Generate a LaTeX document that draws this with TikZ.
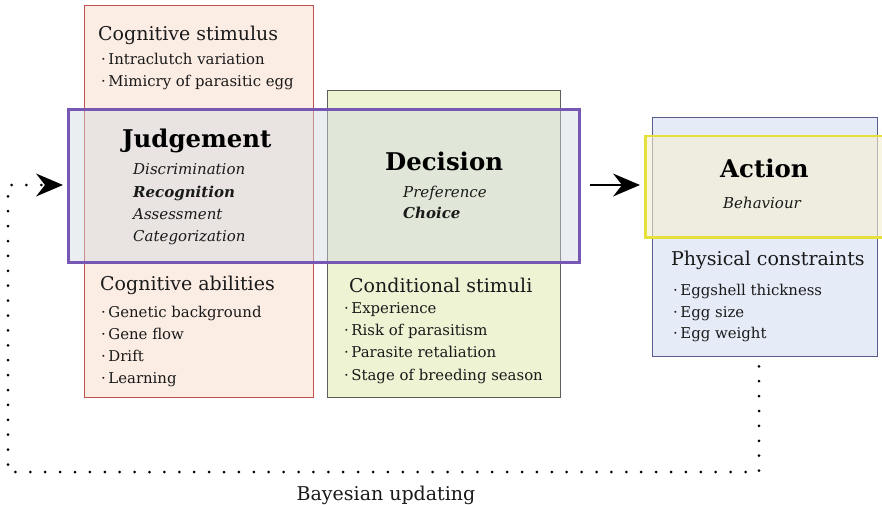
\documentclass[tikz,border=0pt]{standalone}
\usepackage{fontspec}
\setmainfont{DejaVu Serif}
\usepackage{tikz}
\usetikzlibrary{arrows.meta, positioning, calc}

\definecolor{cogline}{HTML}{C0504D}
\definecolor{cogfill}{HTML}{FCEDE4}
\definecolor{condline}{HTML}{5E5E58}
\definecolor{condfill}{HTML}{EDF3D3}
\definecolor{judgeline}{HTML}{7658B4}
\definecolor{judgefill}{HTML}{D3D9E0}
\definecolor{physline}{HTML}{5A5A8C}
\definecolor{physfill}{HTML}{E5EBF7}
\definecolor{actline}{HTML}{E6E03A}
\definecolor{actfill}{HTML}{F5EFD0}
\definecolor{txt}{HTML}{1A1A1A}

\tikzset{
  panel/.style={draw, anchor=north west, inner sep=0pt, line width=1.3pt},
  title/.style={anchor=base west, inner sep=0pt, text=txt, font=\fontsize{19}{22}\selectfont},
  item/.style={anchor=base west, inner sep=0pt, text=txt, font=\fontsize{14.9}{17}\selectfont},
  stage/.style={anchor=base west, inner sep=0pt, text=black, font=\fontsize{24.4}{28}\selectfont\bfseries},
  facet/.style={anchor=base west, inner sep=0pt, text=txt, font=\fontsize{15}{17}\selectfont\itshape},
  keyfacet/.style={facet, font=\fontsize{15}{17}\selectfont\itshape\bfseries},
  pointer/.style={-{Stealth[length=27pt, width=23pt, inset=9pt, line width=0pt]}},
}

\begin{document}
\begin{tikzpicture}[x=1pt, y=-1pt, >=Stealth]
  \useasboundingbox (0,0) rectangle (882,505);
  % Kaders met stimuli en beperkingen
  \node[panel, draw=cogline, fill=cogfill, minimum width=229pt, minimum height=392pt] (cogbox) at (84,5) {};
  \node[panel, draw=condline, fill=condfill, minimum width=233pt, minimum height=307pt] (condbox) at (327,90) {};
  % Oordeel en beslissing
  \node[panel, draw=judgeline, fill=judgefill, fill opacity=0.45, line width=3pt, minimum width=511pt, minimum height=153pt] (judge) at (67,108) {};
  % Handeling
  \node[panel, draw=physline, fill=physfill, minimum width=225pt, minimum height=239pt] (physbox) at (652,117) {};
  \node[panel, draw=actline, fill=actfill, fill opacity=0.6, line width=2.5pt, minimum width=250pt, minimum height=101pt] (act) at (644,135) {};

  % Cognitieve stimulus
  \node[title] (cstim) at (98,41) {Cognitive stimulus};
  \node[item] (cstim1) at (101,65) {·\,Intraclutch variation};
  \node[item] (cstim2) at (101,87) {·\,Mimicry of parasitic egg};
  % Oordeel
  \node[stage] (jtitle) at (122,148) {Judgement};
  \node[facet] (j1) at (133,174) {Discrimination};
  \node[keyfacet] (j2) at (133,197) {Recognition};
  \node[facet] (j3) at (133,219) {Assessment};
  \node[facet] (j4) at (133,241) {Categorization};
  % Cognitieve vermogens
  \node[title] (cabil) at (100,290) {Cognitive abilities};
  \node[item] (cabil1) at (101,317) {·\,Genetic background};
  \node[item] (cabil2) at (101,339) {·\,Gene flow};
  \node[item] (cabil3) at (101,361) {·\,Drift};
  \node[item] (cabil4) at (101,383) {·\,Learning};
  % Beslissing
  \node[stage] (dtitle) at (385,170) {Decision};
  \node[facet] (d1) at (403,197) {Preference};
  \node[keyfacet] (d2) at (403,218) {Choice};
  % Conditionele stimuli
  \node[title] (cond) at (349,292) {Conditional stimuli};
  \node[item] (cond1) at (344,313) {·\,Experience};
  \node[item] (cond2) at (344,335) {·\,Risk of parasitism};
  \node[item] (cond3) at (344,357) {·\,Parasite retaliation};
  \node[item] (cond4) at (344,380) {·\,Stage of breeding season};
  % Handeling
  \node[stage] (atitle) at (720,178) {Action};
  \node[facet] (a1) at (723,208) {Behaviour};
  \node[title] (phys) at (671,265) {Physical constraints};
  \node[item] (phys1) at (673,295) {·\,Eggshell thickness};
  \node[item] (phys2) at (673,317) {·\,Egg size};
  \node[item] (phys3) at (673,338) {·\,Egg weight};

  % Van beslissing naar handeling
  \draw[pointer, line width=1.6pt, shorten <=9pt, shorten >=4pt]
    (judge.east |- 0,185) -- (act.west |- 0,185);
  % Bayesiaanse terugkoppeling
  \coordinate (updR) at (759,472);
  \coordinate (updL) at (8,472);
  \draw[line width=3pt, line cap=round, dash pattern=on 0pt off 14.9pt, pointer, shorten >=4pt]
    (updR |- physbox.south) ++(0,9) -- (updR) -- (updL) -- (updL |- 0,185) -- (judge.west |- 0,185);
  \node[anchor=base, inner sep=0pt, text=txt, font=\fontsize{19}{22}\selectfont] (bayes) at (386,500) {Bayesian updating};
\end{tikzpicture}
\end{document}
